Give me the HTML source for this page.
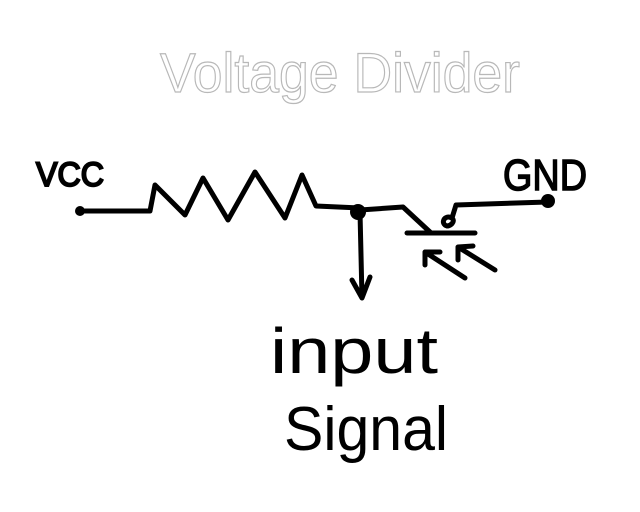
<!DOCTYPE html>
<html><head><meta charset="utf-8"><style>
html,body{margin:0;padding:0;background:#fff;}
svg{display:block;}
</style></head><body>
<svg width="640" height="512" viewBox="0 0 640 512" xmlns="http://www.w3.org/2000/svg">
<rect width="640" height="512" fill="#fff"/>
<text x="160" y="92" font-family="Liberation Sans, sans-serif" font-size="56" fill="none" stroke="#b8b8b8" stroke-width="1.2" textLength="360" lengthAdjust="spacingAndGlyphs">Voltage Divider</text>
<g fill="none" stroke="#000" stroke-width="5" stroke-linecap="round" stroke-linejoin="round">
<path d="M80,211 L150,211 L155,185 L185,215 L203,178 L228,220 L255,172 L285,218 L302,175 L316,206 L360,208"/>
<path d="M360,210 L403,207 L430,232"/>
<path d="M407,233 L475,233"/>
<path d="M447,226 C440,224 444,214 452,218 C456,222 450,226 447,226 M452,218 L456,205 L548,202"/>
<path d="M360,212 L362,298 M352,280 L362,298 L370,277"/>
<path d="M425,252 L465,278 M425,252 L425,265 M425,252 L440,252"/>
<path d="M458,247 L495,270 M458,247 L458,260 M458,247 L473,246"/>
</g>
<circle cx="80" cy="211" r="5" fill="#000"/>
<circle cx="358" cy="212" r="8" fill="#000"/>
<circle cx="548" cy="201" r="7" fill="#000"/>
<g font-family="Liberation Sans, sans-serif" fill="#000" stroke="#000">
<text x="36" y="186" font-size="34" stroke-width="2" textLength="68" lengthAdjust="spacingAndGlyphs">VCC</text>
<text x="503" y="190" font-size="44" stroke-width="1.5" textLength="84" lengthAdjust="spacingAndGlyphs">GND</text>
<text x="270" y="373" font-size="64" stroke-width="0" textLength="168" lengthAdjust="spacingAndGlyphs">input</text>
<text x="284" y="450" font-size="62" stroke-width="0" textLength="164" lengthAdjust="spacingAndGlyphs">Signal</text>
</g>
</svg>
</body></html>
